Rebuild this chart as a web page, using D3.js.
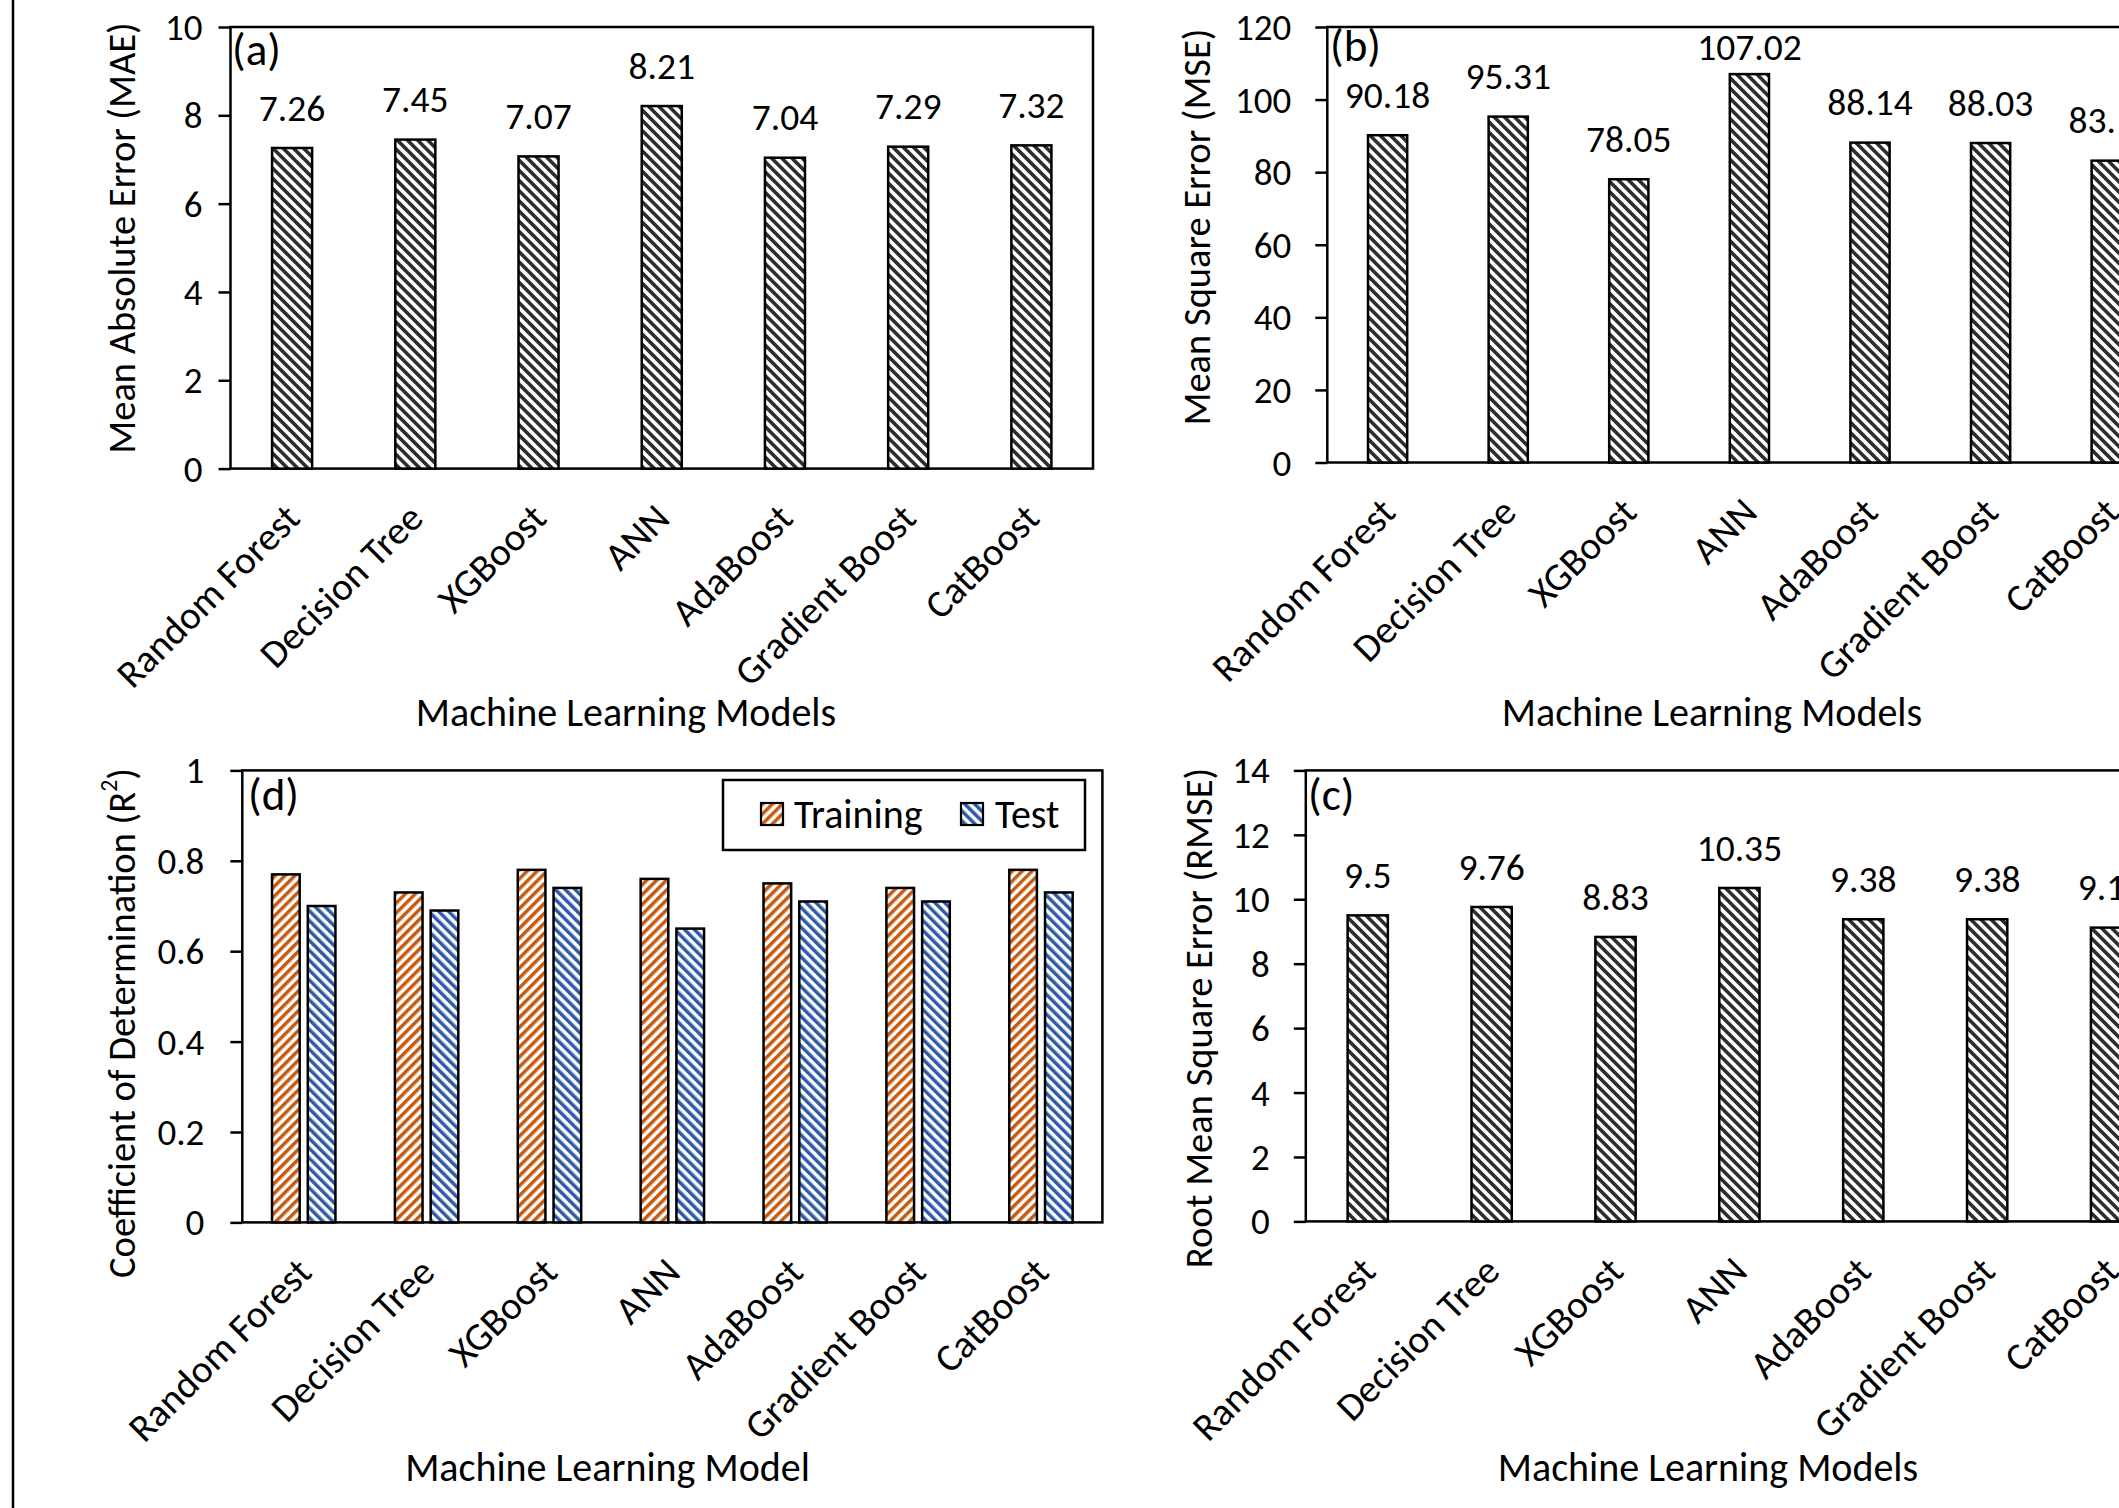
<!DOCTYPE html>
<html>
<head>
<meta charset="utf-8">
<script src="https://cdn.jsdelivr.net/npm/d3@7"></script>
<style>
  html, body { margin: 0; padding: 0; background: #fff; overflow: hidden; }
  svg { display: block; }
</style>
</head>
<body>
<svg id="fig" width="2119" height="1508"></svg>
<script>
// ---- data ----
const models = ["Random Forest", "Decision Tree", "XGBoost", "ANN", "AdaBoost", "Gradient Boost", "CatBoost"];
const maeValues = [7.26, 7.45, 7.07, 8.21, 7.04, 7.29, 7.32];
const mseValues = [90.18, 95.31, 78.05, 107.02, 88.14, 88.03, 83.17];
const rmseValues = [9.5, 9.76, 8.83, 10.35, 9.38, 9.38, 9.12];
const r2Training = [0.77, 0.73, 0.78, 0.76, 0.75, 0.74, 0.78];
const r2Test = [0.70, 0.69, 0.74, 0.65, 0.71, 0.71, 0.73];
const seriesNames = ["Training", "Test"];
const maeTicks = [0, 2, 4, 6, 8, 10];
const mseTicks = [0, 20, 40, 60, 80, 100, 120];
const rmseTicks = [0, 2, 4, 6, 8, 10, 12, 14];
const r2Ticks = [0, 0.2, 0.4, 0.6, 0.8, 1];

// ---- styling ----
const FONT = "Carlito, Calibri, Lato, sans-serif";
const TICK_FS = 37, LABEL_FS = 37.5, TITLE_FS = 40, YTITLE_FS = 38.5, CAT_FS = 39, LETTER_FS = 45;
const LINE_W = 2.5;

const svg = d3.select("#fig").attr("font-family", FONT);
svg.append("rect").attr("width", 2119).attr("height", 1508).attr("fill", "#fff");

// hatched fills
const defs = svg.append("defs");
function stripes(id, color, angle, size, share) {
  const p = defs.append("pattern")
    .attr("id", id)
    .attr("patternUnits", "userSpaceOnUse")
    .attr("width", size).attr("height", size)
    .attr("patternTransform", `rotate(${angle})`);
  p.append("rect").attr("width", size).attr("height", size).attr("fill", "#fff");
  p.append("rect").attr("width", size * share).attr("height", size).attr("fill", color);
}
stripes("hatchDark", "#2e2e2e", -45, 7.2, 0.5);
stripes("hatchOrange", "#C55A11", 45, 7, 0.5);
stripes("hatchBlue", "#2F5AA6", -45, 7, 0.5);

// outer rule at the left edge of the figure
svg.append("line").attr("x1", 13).attr("x2", 13).attr("y1", 0).attr("y2", 1508)
  .attr("stroke", "#000").attr("stroke-width", 2.5);

function panelFrame(cfg) {
  const g = svg.append("g");
  const x = d3.scaleBand().domain(models).range([cfg.x0, cfg.x1]);
  const y = d3.scaleLinear().domain([0, d3.max(cfg.ticks)]).range([cfg.base, cfg.top]);

  // plot area border
  g.append("rect")
    .attr("x", cfg.x0).attr("y", cfg.top)
    .attr("width", cfg.x1 - cfg.x0).attr("height", cfg.base - cfg.top)
    .attr("fill", "none").attr("stroke", "#000").attr("stroke-width", LINE_W);

  // value axis
  const ya = g.append("g").attr("transform", `translate(${cfg.x0},0)`)
    .call(d3.axisLeft(y).tickValues(cfg.ticks).tickSize(12).tickPadding(cfg.pad).tickFormat(d3.format("~g")));
  ya.attr("font-family", null).attr("font-size", null);
  ya.select(".domain").remove();
  ya.selectAll(".tick line").attr("stroke", "#000").attr("stroke-width", LINE_W);
  ya.selectAll(".tick text").attr("font-size", TICK_FS).attr("fill", "#000").attr("dy", "0.34em");

  // category axis
  const xa = g.append("g").attr("transform", `translate(0,${cfg.base})`)
    .call(d3.axisBottom(x).tickSize(0));
  xa.attr("font-family", null).attr("font-size", null);
  xa.select(".domain").remove();
  xa.selectAll(".tick text")
    .attr("font-size", CAT_FS).attr("fill", "#000")
    .attr("x", 0).attr("y", 0).attr("dy", 0)
    .attr("text-anchor", "end")
    .attr("transform", "translate(10,52) rotate(-45)");

  // panel letter
  g.append("text").attr("x", cfg.letter[0]).attr("y", cfg.letter[1]).attr("dy", "0.3em")
    .attr("font-size", LETTER_FS).text(cfg.letterText);

  // axis titles
  const yt = g.append("text")
    .attr("transform", `translate(${cfg.ytitle[0]},${cfg.ytitle[1]}) rotate(-90)`)
    .attr("text-anchor", "middle").attr("dy", "0.34em").attr("font-size", YTITLE_FS);
  if (cfg.ytitleSup) {
    yt.append("tspan").text(cfg.ytitleText);
    yt.append("tspan").attr("font-size", YTITLE_FS * 0.62).attr("dy", "-0.75em").text(cfg.ytitleSup);
    yt.append("tspan").attr("dy", "0.46em").text(")");
  } else {
    yt.text(cfg.ytitleText);
  }
  g.append("text").attr("x", cfg.xtitle[0]).attr("y", cfg.xtitle[1]).attr("dy", "0.34em")
    .attr("text-anchor", "middle").attr("font-size", TITLE_FS).text(cfg.xtitleText);

  return { g, x, y };
}

function singlePanel(cfg, values) {
  const { g, x, y } = panelFrame(cfg);
  const w = x.bandwidth() * 0.325;
  const rows = models.map((m, i) => ({ m, v: values[i] }));
  g.selectAll("rect.bar").data(rows).join("rect")
    .attr("class", "bar")
    .attr("x", d => x(d.m) + (x.bandwidth() - w) / 2)
    .attr("y", d => y(d.v))
    .attr("width", w)
    .attr("height", d => y(0) - y(d.v))
    .attr("fill", "url(#hatchDark)")
    .attr("stroke", "#000").attr("stroke-width", LINE_W);
  g.selectAll("text.val").data(rows).join("text")
    .attr("class", "val")
    .attr("x", d => x(d.m) + x.bandwidth() / 2)
    .attr("y", d => Math.max(y(d.v) - 40, cfg.top + 20.5))
    .attr("dy", "0.34em")
    .attr("text-anchor", "middle")
    .attr("font-size", LABEL_FS)
    .text(d => String(d.v));
}

// (a) MAE
singlePanel({
  x0: 230.5, x1: 1093, top: 27, base: 468.6, ticks: maeTicks, pad: 16,
  letter: [232, 51], letterText: "(a)",
  ytitle: [122, 238], ytitleText: "Mean Absolute Error (MAE)",
  xtitle: [626, 712], xtitleText: "Machine Learning Models"
}, maeValues);

// (b) MSE
singlePanel({
  x0: 1327.3, x1: 2171.5, top: 27, base: 462.5, ticks: mseTicks, pad: 24,
  letter: [1330, 47], letterText: "(b)",
  ytitle: [1197, 227], ytitleText: "Mean Square Error (MSE)",
  xtitle: [1712, 712], xtitleText: "Machine Learning Models"
}, mseValues);

// (c) RMSE
singlePanel({
  x0: 1305.8, x1: 2173, top: 770.4, base: 1221.4, ticks: rmseTicks, pad: 24,
  letter: [1308, 796], letterText: "(c)",
  ytitle: [1199, 1018], ytitleText: "Root Mean Square Error (RMSE)",
  xtitle: [1708, 1467], xtitleText: "Machine Learning Models"
}, rmseValues);

// (d) R² for training and test
(function () {
  const cfg = {
    x0: 242.3, x1: 1102.4, top: 770.4, base: 1222.4, ticks: r2Ticks, pad: 26,
    letter: [248, 796], letterText: "(d)",
    ytitle: [122, 1023], ytitleText: "Coefficient of Determination (R", ytitleSup: "2",
    xtitle: [607.5, 1467], xtitleText: "Machine Learning Model"
  };
  const { g, x, y } = panelFrame(cfg);
  const bw = x.bandwidth();
  const w = bw * 0.225, gap = bw * 0.066;
  const inner = d3.scaleBand().domain(seriesNames)
    .range([bw / 2 - w - gap / 2, bw / 2 + w + gap / 2])
    .paddingInner(gap / (w + gap));
  const fills = { Training: "url(#hatchOrange)", Test: "url(#hatchBlue)" };
  const series = { Training: r2Training, Test: r2Test };
  const rows = [];
  models.forEach((m, i) => seriesNames.forEach(s => rows.push({ m, s, v: series[s][i] })));
  g.selectAll("rect.bar").data(rows).join("rect")
    .attr("class", "bar")
    .attr("x", d => x(d.m) + inner(d.s))
    .attr("y", d => y(d.v))
    .attr("width", inner.bandwidth())
    .attr("height", d => y(0) - y(d.v))
    .attr("fill", d => fills[d.s])
    .attr("stroke", "#000").attr("stroke-width", LINE_W);

  // legend
  const lg = g.append("g");
  lg.append("rect").attr("x", 723).attr("y", 780).attr("width", 362).attr("height", 70)
    .attr("fill", "#fff").attr("stroke", "#000").attr("stroke-width", LINE_W);
  const items = [
    { s: "Training", sx: 761, tx: 794 },
    { s: "Test", sx: 961, tx: 995 }
  ];
  items.forEach(it => {
    lg.append("rect").attr("x", it.sx).attr("y", 803).attr("width", 22).attr("height", 22)
      .attr("fill", fills[it.s]).attr("stroke", "#000").attr("stroke-width", 2.2);
    lg.append("text").attr("x", it.tx).attr("y", 814).attr("dy", "0.34em")
      .attr("font-size", TITLE_FS).text(it.s);
  });
})();
</script>
</body>
</html>
